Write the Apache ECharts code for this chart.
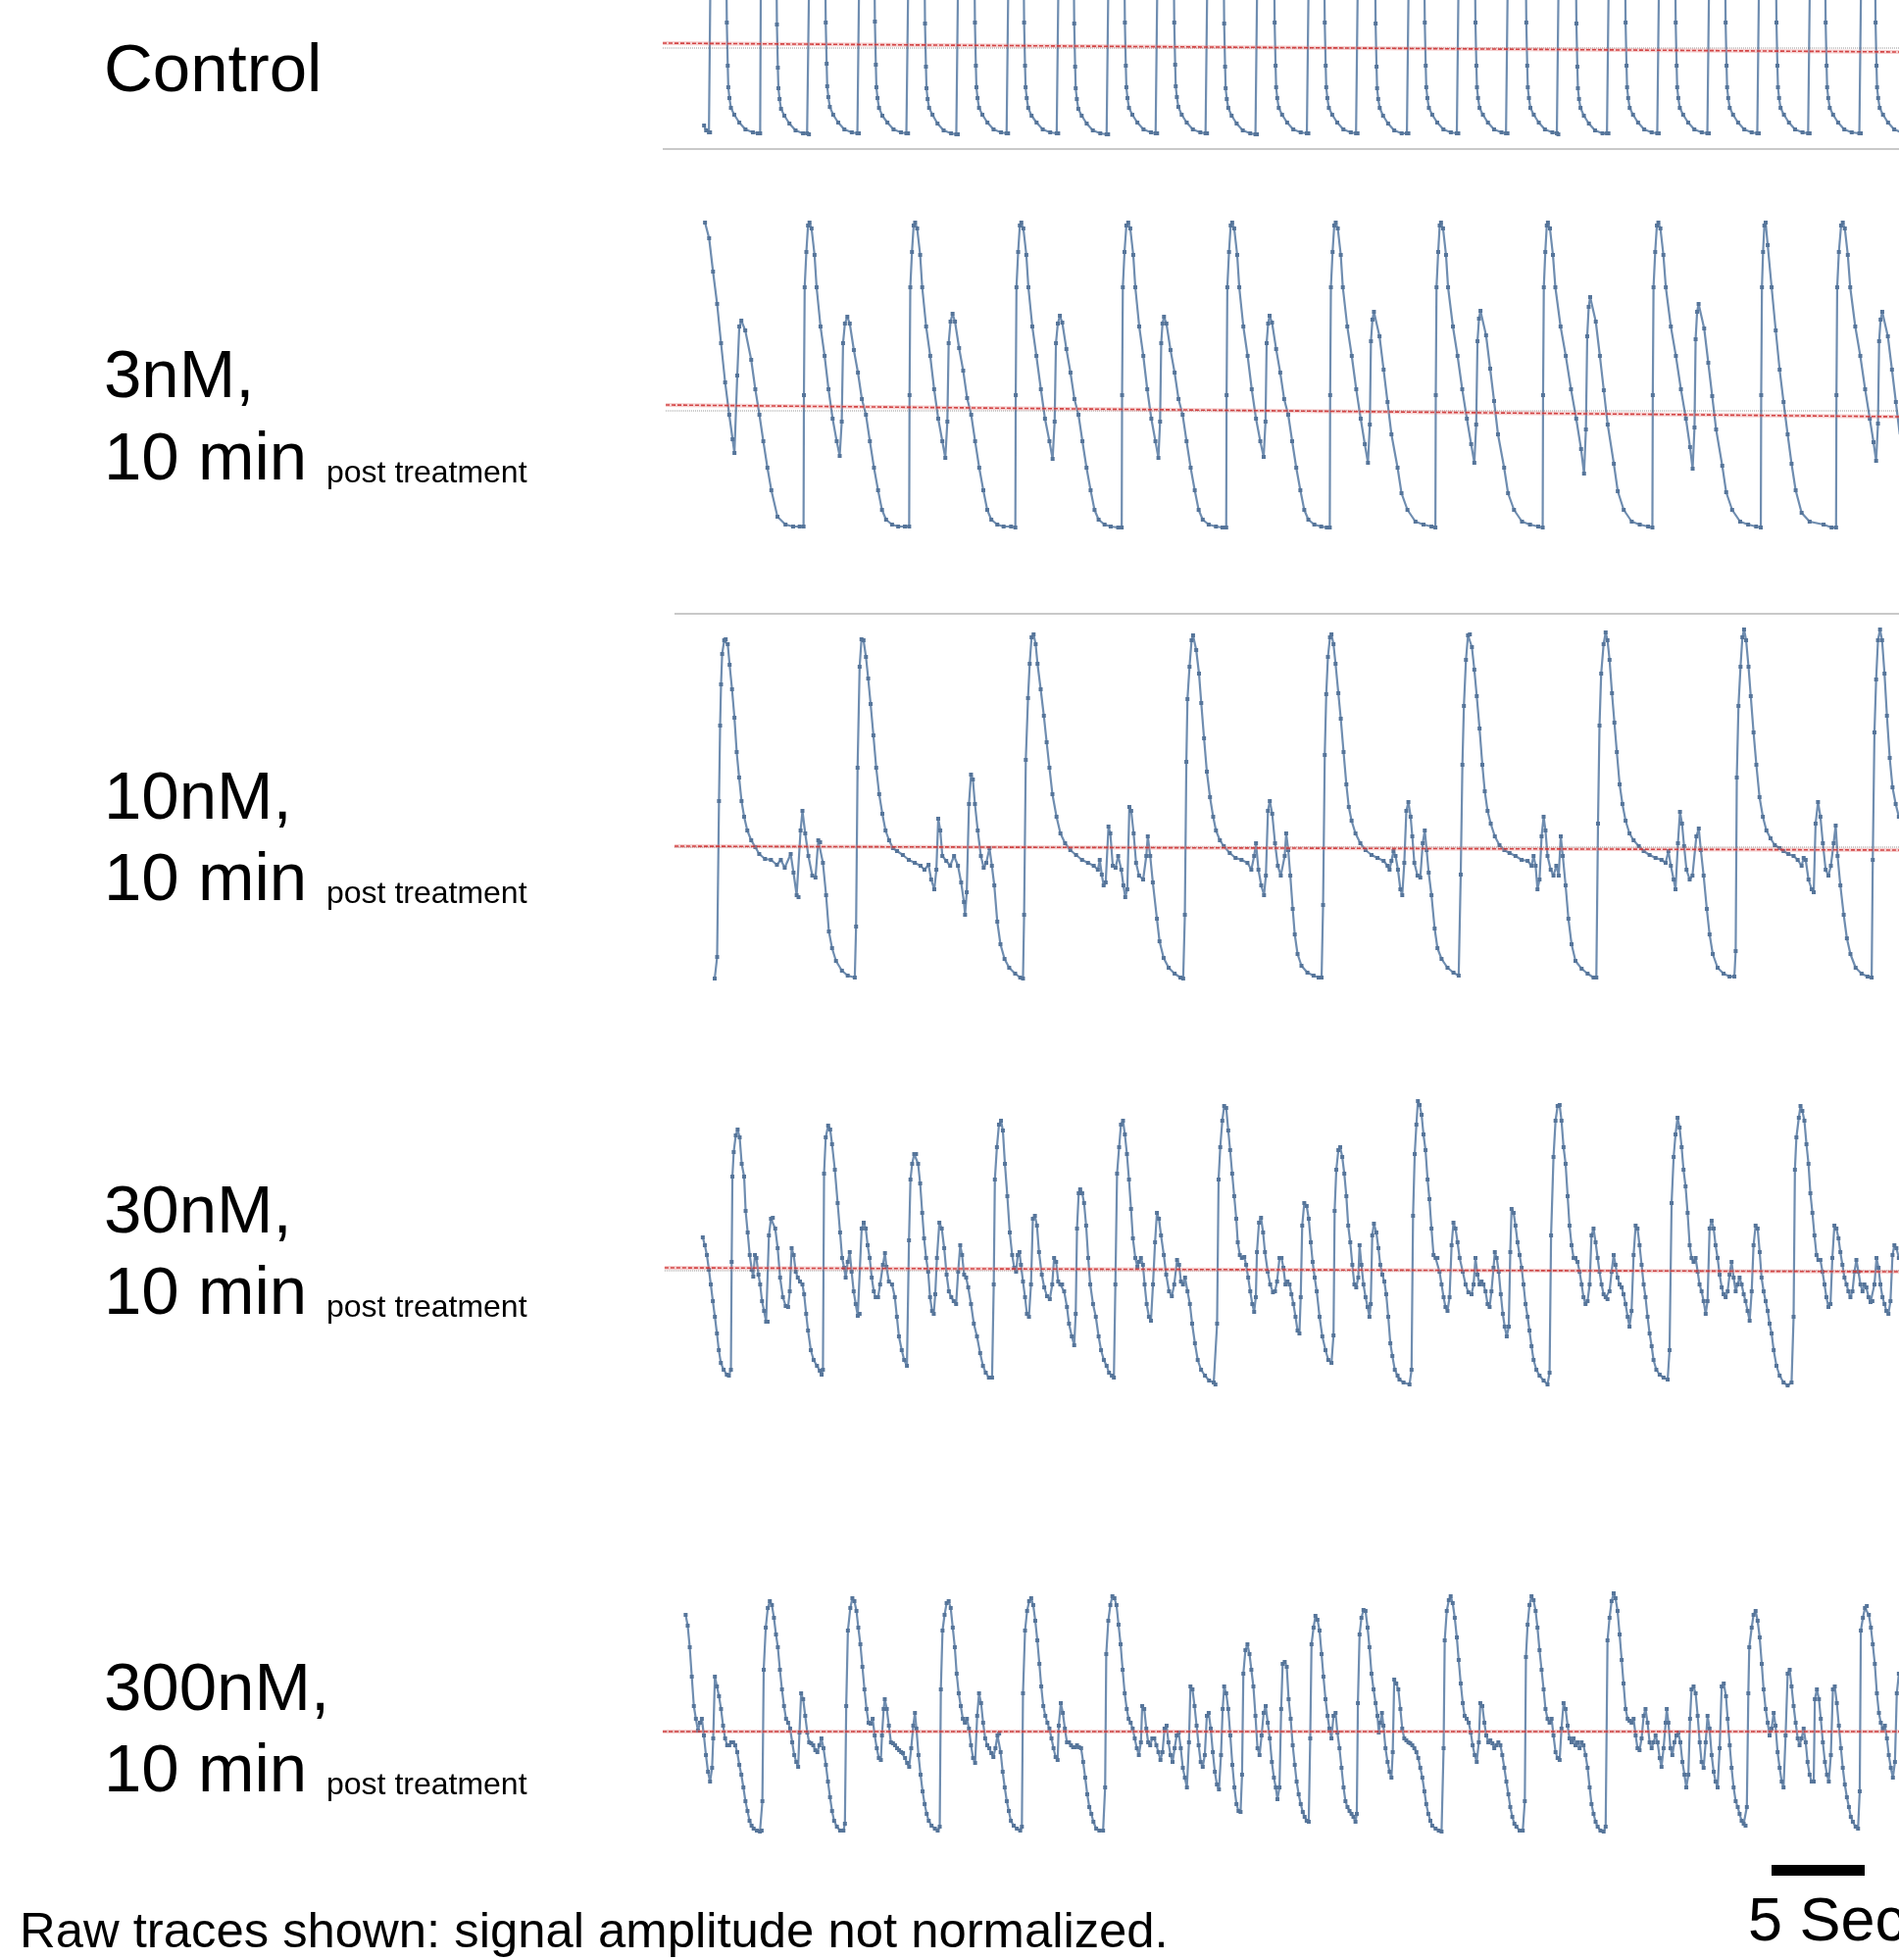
<!DOCTYPE html>
<html>
<head>
<meta charset="utf-8">
<title>Raw traces</title>
<script src="https://cdn.jsdelivr.net/npm/echarts@6/dist/echarts.min.js"></script>
<style>
  html, body { margin: 0; padding: 0; background: #fff; }
  #chart { width: 1937px; height: 1999px; }
</style>
</head>
<body>
<div id="chart"></div>
<script>
// ------------------------- D A T A ------------------------- //
// each trace: [time (s), signal (a.u., relative to its baseline)]

const control = [
  [2.22,-79],[2.33,-84],[2.48,-86],
  [2.54,-86],[2.59,130],[3.0,150],[3.41,90],[3.44,26],[3.49,-18],[3.52,-40],[3.58,-51],[3.66,-61],[3.84,-68],[4.11,-76],[4.44,-83],[4.84,-86],[5.1,-87],
  [5.23,-87],[5.28,130],[5.7,150],[6.1,90],[6.13,24],[6.18,-20],[6.21,-41],[6.27,-52],[6.35,-62],[6.53,-69],[6.8,-77],[7.13,-84],[7.53,-87],[7.75,-87],
  [7.85,-88],[7.9,130],[8.3,150],[8.72,90],[8.75,26],[8.8,-16],[8.83,-39],[8.89,-50],[8.97,-60],[9.15,-68],[9.42,-76],[9.75,-83],[10.15,-86],[10.45,-87],
  [10.53,-87],[10.58,130],[10.95,150],[11.36,90],[11.39,27],[11.44,-17],[11.47,-40],[11.53,-51],[11.61,-61],[11.79,-69],[12.06,-76],[12.39,-83],[12.79,-86],[13.08,-87],
  [13.17,-87],[13.22,130],[13.6,150],[14.05,90],[14.08,25],[14.13,-19],[14.16,-41],[14.22,-52],[14.3,-61],[14.48,-68],[14.75,-77],[15.08,-84],[15.48,-87],[15.76,-88],
  [15.84,-88],[15.89,130],[16.3,150],[16.73,90],[16.76,26],[16.81,-18],[16.84,-40],[16.9,-51],[16.98,-61],[17.16,-68],[17.43,-76],[17.76,-83],[18.16,-86],[18.46,-87],
  [18.54,-87],[18.59,130],[19.0,150],[19.37,90],[19.4,26],[19.45,-18],[19.48,-40],[19.54,-51],[19.62,-61],[19.8,-69],[20.07,-76],[20.4,-83],[20.8,-86],[21.15,-87],
  [21.23,-87],[21.28,130],[21.7,150],[22.06,90],[22.09,25],[22.14,-19],[22.17,-41],[22.23,-52],[22.31,-62],[22.49,-69],[22.76,-77],[23.09,-84],[23.49,-87],[23.83,-88],
  [23.91,-88],[23.96,130],[24.4,150],[24.78,90],[24.81,26],[24.86,-18],[24.89,-40],[24.95,-51],[25.03,-61],[25.21,-68],[25.48,-76],[25.81,-83],[26.21,-86],[26.46,-87],
  [26.54,-87],[26.59,130],[27.0,150],[27.43,90],[27.46,26],[27.51,-17],[27.54,-39],[27.6,-50],[27.68,-60],[27.86,-68],[28.13,-76],[28.46,-83],[28.86,-86],[29.14,-87],
  [29.22,-87],[29.27,130],[29.7,150],[30.11,90],[30.14,25],[30.19,-19],[30.22,-41],[30.28,-52],[30.36,-61],[30.54,-69],[30.81,-77],[31.14,-84],[31.54,-87],[31.82,-88],
  [31.9,-88],[31.95,130],[32.4,150],[32.82,90],[32.85,26],[32.9,-18],[32.93,-40],[32.99,-51],[33.07,-61],[33.25,-68],[33.52,-76],[33.85,-83],[34.25,-86],[34.58,-87],
  [34.66,-87],[34.71,130],[35.1,150],[35.51,90],[35.54,26],[35.59,-18],[35.62,-40],[35.68,-51],[35.76,-61],[35.94,-68],[36.21,-76],[36.54,-83],[36.94,-86],[37.22,-87],
  [37.3,-87],[37.35,130],[37.8,150],[38.24,90],[38.27,25],[38.32,-19],[38.35,-41],[38.41,-52],[38.49,-61],[38.67,-69],[38.94,-77],[39.27,-84],[39.67,-87],[39.95,-87],
  [40.03,-87],[40.08,130],[40.5,150],[40.88,90],[40.91,26],[40.96,-18],[40.99,-40],[41.05,-51],[41.13,-61],[41.31,-68],[41.58,-76],[41.91,-83],[42.31,-86],[42.63,-87],
  [42.71,-87],[42.76,130],[43.2,150],[43.6,90],[43.63,26],[43.68,-18],[43.71,-40],[43.77,-51],[43.85,-61],[44.03,-68],[44.3,-76],[44.63,-83],[45.03,-86],[45.27,-87],
  [45.35,-87],[45.4,130],[45.9,150],[46.33,90],[46.36,26],[46.41,-18],[46.44,-40],[46.5,-51],[46.58,-61],[46.76,-68],[47.03,-76],[47.36,-83],[47.76,-86],[48.0,-87],
  [48.08,-88],[48.13,130],[48.6,150],[49.02,90],[49.05,25],[49.1,-19],[49.13,-41],[49.19,-52],[49.27,-61],[49.45,-69],[49.72,-77],[50.05,-84],[50.45,-87],[50.69,-87],
  [50.77,-87],[50.82,130],[51.2,150],[51.66,90],[51.69,26],[51.74,-18],[51.77,-40],[51.83,-51],[51.91,-61],[52.09,-68],[52.36,-76],[52.69,-83],[53.09,-86],[53.39,-87],
  [53.47,-87],[53.52,130],[53.9,150],[54.35,90],[54.38,26],[54.43,-18],[54.46,-40],[54.52,-51],[54.6,-61],[54.78,-68],[55.05,-76],[55.38,-83],[55.78,-86],[56.08,-87],
  [56.16,-87],[56.21,130],[56.6,150],[57.03,90],[57.06,26],[57.11,-18],[57.14,-40],[57.2,-51],[57.28,-61],[57.46,-68],[57.73,-76],[58.06,-83],[58.46,-86],[58.76,-87],
  [58.84,-87],[58.89,130],[59.3,150],[59.76,90],[59.79,26],[59.84,-18],[59.87,-40],[59.93,-51],[60.01,-61],[60.19,-68],[60.46,-76],[60.79,-83],[61.19,-86],[61.49,-87],
  [61.57,-87],[61.62,130],[62.0,150],[62.4,90],[62.43,26],[62.48,-18],[62.51,-40],[62.57,-51],[62.65,-61],[62.83,-68],[63.1,-76],[63.43,-83],[63.83,-86],[64.24,-87],
  [64.32,-87],[64.37,130],[64.8,150],[65.08,90],[65.11,26],[65.16,-18],[65.19,-40],[65.25,-51],[65.33,-61],[65.51,-68],[65.78,-76],[66.11,-83],[66.5,-86]
];

const nm3 = [
  [2.27,191],[2.49,175],[2.7,141],[2.92,108],[3.13,68],[3.35,28],[3.57,-5],[3.75,-30],[3.85,-44],[4.0,35],[4.11,85],[4.22,91],[4.43,81],[4.75,51],[4.97,21],[5.19,-5],[5.4,-32],[5.62,-59],[5.83,-82],[6.16,-109],[6.59,-117],[7.0,-119],[7.35,-119],
  [7.56,-119],[7.58,15],[7.62,125],[7.71,161],[7.8,188],[7.88,191],[7.99,185],[8.15,158],[8.26,125],[8.47,85],[8.69,55],[8.9,21],[9.12,-9],[9.34,-32],[9.5,-47],[9.61,-12],[9.68,68],[9.78,88],[9.91,95],[10.04,88],[10.26,61],[10.48,38],[10.69,11],[10.91,-5],[11.12,-32],[11.34,-59],[11.56,-82],[11.77,-102],[11.99,-112],[12.31,-117],[12.64,-119],[13.0,-119],
  [13.23,-119],[13.25,15],[13.29,125],[13.38,161],[13.47,188],[13.55,191],[13.66,185],[13.82,158],[13.93,125],[14.14,85],[14.36,55],[14.57,21],[14.79,-9],[15.01,-32],[15.17,-49],[15.28,-12],[15.35,68],[15.45,90],[15.56,98],[15.69,90],[15.91,63],[16.13,40],[16.34,12],[16.56,-5],[16.77,-32],[16.99,-59],[17.21,-82],[17.42,-102],[17.64,-112],[17.96,-117],[18.3,-119],[18.7,-119],
  [18.93,-120],[18.95,15],[18.99,125],[19.08,161],[19.17,188],[19.25,191],[19.36,185],[19.52,158],[19.63,125],[19.84,85],[20.06,55],[20.3,21],[20.52,-9],[20.76,-32],[20.93,-50],[21.04,-12],[21.11,68],[21.21,88],[21.32,96],[21.45,89],[21.67,62],[21.89,38],[22.1,11],[22.32,-5],[22.53,-32],[22.75,-59],[22.97,-82],[23.18,-102],[23.4,-112],[23.72,-117],[24.05,-119],[24.45,-120],
  [24.64,-120],[24.66,15],[24.7,125],[24.79,161],[24.89,188],[24.99,191],[25.1,185],[25.26,158],[25.37,125],[25.58,85],[25.8,55],[26.01,21],[26.23,-9],[26.45,-32],[26.61,-49],[26.7,-12],[26.76,68],[26.83,88],[26.91,95],[27.04,88],[27.26,61],[27.48,38],[27.69,11],[27.91,-5],[28.12,-32],[28.34,-59],[28.56,-82],[28.77,-102],[28.99,-112],[29.31,-117],[29.7,-119],[30.05,-120],
  [30.25,-120],[30.27,15],[30.31,125],[30.4,161],[30.49,188],[30.57,191],[30.68,185],[30.84,158],[30.95,125],[31.17,85],[31.4,55],[31.62,21],[31.85,-9],[32.08,-32],[32.26,-48],[32.36,-12],[32.42,68],[32.5,88],[32.58,96],[32.71,89],[32.93,62],[33.15,38],[33.36,11],[33.58,-5],[33.79,-32],[34.01,-59],[34.23,-82],[34.44,-102],[34.66,-112],[34.98,-117],[35.35,-119],[35.65,-120],
  [35.81,-120],[35.83,15],[35.87,125],[35.96,161],[36.05,188],[36.13,191],[36.24,185],[36.4,158],[36.51,125],[36.75,85],[36.99,55],[37.23,21],[37.47,-9],[37.69,-35],[37.86,-54],[37.96,-15],[38.02,70],[38.1,92],[38.18,100],[38.48,75],[38.7,41],[38.91,8],[39.12,-25],[39.45,-59],[39.66,-85],[39.98,-102],[40.41,-114],[40.84,-117],[41.27,-119],
  [41.48,-120],[41.5,15],[41.54,125],[41.63,161],[41.71,188],[41.78,191],[41.89,185],[42.05,158],[42.16,125],[42.42,85],[42.67,55],[42.92,21],[43.17,-9],[43.4,-35],[43.57,-54],[43.67,-15],[43.74,70],[43.82,93],[43.9,101],[44.2,76],[44.42,42],[44.63,9],[44.84,-25],[45.17,-59],[45.38,-85],[45.7,-102],[46.13,-114],[46.56,-117],[47.0,-119],
  [47.24,-120],[47.26,15],[47.3,125],[47.38,161],[47.46,188],[47.52,191],[47.63,185],[47.79,158],[47.92,125],[48.2,85],[48.48,55],[48.76,21],[49.04,-9],[49.3,-40],[49.46,-65],[49.56,-20],[49.63,75],[49.71,105],[49.79,115],[50.09,90],[50.31,55],[50.52,20],[50.73,-15],[51.06,-55],[51.27,-83],[51.59,-102],[52.02,-114],[52.45,-117],[52.9,-119],
  [53.13,-120],[53.15,15],[53.19,125],[53.28,161],[53.37,188],[53.45,191],[53.56,185],[53.72,158],[53.85,125],[54.12,85],[54.39,55],[54.66,21],[54.93,-9],[55.15,-38],[55.29,-60],[55.39,-18],[55.45,72],[55.53,100],[55.61,108],[55.91,83],[56.13,48],[56.34,14],[56.55,-20],[56.88,-57],[57.09,-84],[57.41,-102],[57.84,-114],[58.27,-117],[58.7,-119],
  [58.95,-120],[58.97,15],[59.01,125],[59.07,161],[59.14,188],[59.21,191],[59.32,168],[59.53,125],[59.75,81],[59.96,41],[60.17,8],[60.39,-25],[60.6,-55],[60.82,-82],[61.14,-105],[61.57,-114],[62.32,-117],[62.75,-120],
  [62.99,-120],[63.01,15],[63.05,125],[63.14,161],[63.26,188],[63.35,191],[63.46,185],[63.62,158],[63.75,125],[64.02,85],[64.29,55],[64.55,21],[64.8,-9],[65.0,-33],[65.14,-52],[65.24,-14],[65.3,70],[65.38,92],[65.47,100],[65.77,75],[65.99,41],[66.2,8],[66.41,-25]
];

const nm10 = [
  [2.79,-134],[2.92,-112],[3.02,47],[3.08,124],[3.13,166],[3.19,197],[3.3,211],[3.38,212],[3.49,207],[3.59,186],[3.72,161],[3.85,132],[3.97,97],[4.1,71],[4.23,47],[4.37,31],[4.54,17],[4.75,7],[4.97,0],[5.18,-7],[5.49,-12],[5.81,-13],[6.13,-18],[6.34,-13],[6.55,-21],[6.87,-7],[7.02,-26],[7.19,-49],[7.29,-51],[7.4,17],[7.5,37],[7.65,14],[7.82,-9],[8.03,-29],[8.2,-31],[8.35,7],[8.45,5],[8.6,-16],[8.77,-49],[8.92,-86],[9.09,-103],[9.3,-116],[9.62,-126],[9.93,-131],[10.31,-133],
  [10.38,-81],[10.46,81],[10.57,184],[10.67,212],[10.78,211],[10.91,194],[11.03,172],[11.16,146],[11.31,114],[11.46,81],[11.62,54],[11.79,34],[11.96,17],[12.15,7],[12.36,-1],[12.58,-4],[12.89,-8],[13.21,-13],[13.53,-16],[13.84,-19],[14.05,-23],[14.27,-18],[14.41,-33],[14.58,-43],[14.69,-23],[14.79,29],[14.9,17],[15.01,-9],[15.22,-14],[15.43,-19],[15.64,-9],[15.85,-19],[16.02,-36],[16.17,-56],[16.23,-69],[16.32,-46],[16.44,44],[16.55,74],[16.65,69],[16.76,44],[16.91,17],[17.08,-9],[17.23,-21],[17.37,-16],[17.54,-1],[17.67,-19],[17.8,-39],[17.96,-76],[18.13,-99],[18.35,-114],[18.6,-123],[18.92,-129],[19.19,-133],[19.34,-134],
  [19.4,-69],[19.49,89],[19.61,152],[19.7,187],[19.8,214],[19.91,217],[20.02,207],[20.12,187],[20.29,161],[20.46,134],[20.61,107],[20.76,81],[20.92,54],[21.14,31],[21.35,14],[21.6,4],[21.88,-3],[22.19,-8],[22.51,-13],[22.83,-16],[23.14,-19],[23.36,-23],[23.46,-13],[23.57,-28],[23.67,-39],[23.78,-36],[23.93,21],[24.03,14],[24.16,-19],[24.31,-21],[24.45,-9],[24.62,-23],[24.73,-39],[24.83,-51],[24.94,-43],[25.05,41],[25.15,37],[25.28,14],[25.41,-16],[25.57,-29],[25.79,-33],[25.96,-9],[26.04,11],[26.17,-9],[26.31,-36],[26.53,-73],[26.67,-96],[26.89,-113],[27.16,-123],[27.48,-129],[27.79,-133],[27.94,-134],
  [28.03,-69],[28.11,87],[28.17,151],[28.28,184],[28.39,211],[28.47,216],[28.64,201],[28.79,177],[28.91,147],[29.06,111],[29.21,77],[29.38,51],[29.55,31],[29.7,17],[29.91,7],[30.12,1],[30.44,-6],[30.75,-11],[31.07,-13],[31.39,-16],[31.6,-23],[31.75,-9],[31.85,4],[31.98,-23],[32.13,-39],[32.28,-49],[32.38,-29],[32.49,37],[32.59,47],[32.72,34],[32.87,4],[33.02,-19],[33.18,-29],[33.39,-9],[33.47,14],[33.58,-3],[33.69,-29],[33.82,-63],[33.93,-89],[34.08,-109],[34.29,-121],[34.61,-128],[34.94,-131],[35.21,-133],[35.37,-133],
  [35.45,-59],[35.54,94],[35.62,156],[35.71,194],[35.82,214],[35.9,217],[36.01,207],[36.12,187],[36.27,157],[36.4,131],[36.55,97],[36.7,64],[36.83,41],[36.98,27],[37.19,14],[37.45,4],[37.73,-3],[38.05,-8],[38.37,-11],[38.7,-14],[38.91,-19],[39.02,-23],[39.12,-14],[39.23,-4],[39.34,-9],[39.47,-23],[39.6,-43],[39.7,-49],[39.81,-16],[39.92,37],[40.03,46],[40.15,31],[40.24,11],[40.35,-16],[40.52,-29],[40.67,-31],[40.8,4],[40.91,17],[41.01,-3],[41.12,-26],[41.27,-49],[41.44,-83],[41.59,-103],[41.81,-114],[42.13,-123],[42.45,-128],[42.73,-131],
  [42.84,-28],[42.93,84],[43.01,144],[43.12,191],[43.23,216],[43.33,217],[43.44,204],[43.57,181],[43.7,154],[43.85,121],[44.0,84],[44.13,57],[44.28,37],[44.45,24],[44.67,11],[44.92,2],[45.18,-3],[45.46,-6],[45.78,-9],[46.11,-13],[46.43,-14],[46.64,-19],[46.75,-9],[46.86,-19],[46.96,-43],[47.07,-33],[47.18,11],[47.29,31],[47.39,17],[47.5,-9],[47.67,-23],[47.82,-29],[47.97,-19],[48.1,-29],[48.21,11],[48.32,-9],[48.47,-39],[48.62,-73],[48.79,-99],[49.0,-116],[49.33,-124],[49.65,-129],[49.97,-133],[50.12,-133],
  [50.21,24],[50.29,124],[50.38,177],[50.51,207],[50.62,219],[50.72,211],[50.83,191],[50.96,157],[51.09,127],[51.22,97],[51.37,64],[51.52,44],[51.69,27],[51.9,14],[52.12,7],[52.4,1],[52.66,-4],[52.98,-8],[53.3,-11],[53.62,-13],[53.84,-16],[53.99,-4],[54.12,-19],[54.27,-33],[54.37,-43],[54.5,4],[54.61,36],[54.72,24],[54.83,1],[54.96,-23],[55.13,-33],[55.28,-29],[55.49,11],[55.62,19],[55.73,-3],[55.88,-29],[56.05,-63],[56.2,-89],[56.37,-109],[56.63,-123],[56.95,-129],[57.27,-132],[57.53,-132],
  [57.6,-106],[57.66,71],[57.75,144],[57.86,184],[57.96,214],[58.05,222],[58.16,211],[58.29,184],[58.41,154],[58.56,117],[58.71,84],[58.88,51],[59.06,31],[59.25,17],[59.47,9],[59.7,2],[59.96,-1],[60.17,-4],[60.43,-7],[60.71,-9],[60.93,-13],[61.14,-19],[61.25,-11],[61.36,-13],[61.51,-33],[61.68,-43],[61.79,-46],[61.89,24],[62.02,46],[62.15,31],[62.28,4],[62.43,-23],[62.58,-29],[62.71,-19],[62.86,4],[62.97,22],[63.07,-9],[63.22,-39],[63.4,-69],[63.57,-93],[63.76,-109],[64.04,-123],[64.36,-129],[64.68,-132],[64.9,-133],
  [64.96,-13],[65.05,117],[65.14,171],[65.24,211],[65.35,222],[65.46,211],[65.59,177],[65.72,134],[65.87,91],[66.02,61],[66.19,44],[66.36,31]
];

const nm30 = [
  [2.15,34],[2.26,26],[2.37,16],[2.48,1],[2.58,-14],[2.69,-31],[2.8,-47],[2.91,-64],[3.01,-81],[3.12,-94],[3.27,-101],[3.44,-106],[3.55,-107],
  [3.66,-101],[3.7,9],[3.74,96],[3.81,121],[3.92,138],[4.02,144],[4.13,136],[4.24,109],[4.37,96],[4.45,61],[4.56,39],[4.67,16],[4.78,1],[4.86,-6],[4.95,16],[5.03,13],[5.14,-4],[5.23,-14],[5.33,-31],[5.44,-41],[5.55,-52],[5.63,-52],[5.7,36],[5.81,53],[5.91,54],[6.04,43],[6.17,23],[6.3,-7],[6.45,-27],[6.6,-36],[6.73,-37],[6.82,-21],[6.92,23],[7.03,16],[7.14,-1],[7.25,-7],[7.37,-11],[7.5,-14],[7.59,-24],[7.7,-44],[7.8,-61],[7.95,-81],[8.1,-91],[8.28,-97],[8.43,-102],[8.53,-106],
  [8.6,-101],[8.66,99],[8.75,136],[8.88,148],[8.99,144],[9.09,129],[9.24,103],[9.39,69],[9.52,39],[9.63,13],[9.74,3],[9.82,-7],[9.93,9],[10.04,19],[10.14,-1],[10.25,-21],[10.36,-34],[10.47,-46],[10.57,-44],[10.68,43],[10.79,49],[10.9,43],[11.0,26],[11.11,13],[11.22,-7],[11.33,-21],[11.43,-27],[11.56,-27],[11.67,-14],[11.82,6],[11.93,18],[12.01,4],[12.14,-11],[12.31,-14],[12.46,-27],[12.57,-47],[12.68,-67],[12.83,-81],[12.96,-91],[13.11,-97],
  [13.22,31],[13.3,93],[13.39,109],[13.5,119],[13.6,119],[13.71,109],[13.82,89],[13.93,59],[14.03,33],[14.14,13],[14.25,-1],[14.35,-27],[14.46,-41],[14.55,-44],[14.63,-24],[14.72,13],[14.85,49],[14.98,43],[15.11,23],[15.24,-4],[15.36,-21],[15.49,-27],[15.62,-31],[15.75,-34],[15.86,-1],[15.97,26],[16.07,16],[16.18,-4],[16.29,-7],[16.4,-17],[16.55,-34],[16.7,-54],[16.87,-67],[17.04,-84],[17.19,-97],[17.34,-104],[17.51,-109],[17.68,-109],
  [17.77,-14],[17.83,93],[17.94,126],[18.05,149],[18.16,153],[18.26,143],[18.37,109],[18.5,76],[18.63,39],[18.76,16],[18.87,3],[18.97,-1],[19.06,16],[19.15,19],[19.23,6],[19.34,-11],[19.45,-27],[19.55,-44],[19.66,-47],[19.77,-14],[19.87,53],[19.98,56],[20.09,46],[20.2,19],[20.35,-4],[20.48,-17],[20.63,-26],[20.78,-29],[20.91,-14],[21.01,13],[21.12,9],[21.23,-11],[21.34,-14],[21.44,-14],[21.55,-21],[21.7,-37],[21.81,-54],[21.96,-67],[22.09,-76],
  [22.17,-44],[22.24,43],[22.33,79],[22.41,83],[22.52,79],[22.62,69],[22.73,46],[22.84,13],[22.95,-14],[23.1,-34],[23.25,-47],[23.4,-67],[23.53,-81],[23.68,-91],[23.83,-97],[23.96,-104],[24.11,-107],[24.22,-109],
  [24.3,-14],[24.39,99],[24.5,126],[24.6,149],[24.71,153],[24.81,139],[24.92,119],[25.03,93],[25.14,63],[25.24,33],[25.37,13],[25.48,4],[25.57,9],[25.67,13],[25.78,6],[25.87,-14],[25.98,-34],[26.1,-47],[26.21,-51],[26.32,-14],[26.43,29],[26.53,59],[26.64,53],[26.75,36],[26.9,16],[27.03,-4],[27.18,-21],[27.33,-26],[27.46,-14],[27.61,11],[27.72,6],[27.82,-11],[27.93,-14],[28.04,-7],[28.17,-21],[28.3,-34],[28.42,-54],[28.57,-74],[28.72,-91],[28.9,-101],[29.11,-107],[29.33,-112],[29.58,-114],[29.67,-116],
  [29.76,-54],[29.84,93],[29.93,126],[30.04,153],[30.14,168],[30.25,166],[30.36,143],[30.46,123],[30.57,99],[30.68,76],[30.79,53],[30.87,29],[30.98,16],[31.09,13],[31.22,14],[31.32,6],[31.43,-7],[31.54,-21],[31.65,-34],[31.75,-42],[31.84,-27],[31.9,19],[32.01,49],[32.12,54],[32.23,39],[32.33,19],[32.48,-1],[32.61,-14],[32.76,-22],[32.87,-21],[32.98,-11],[33.11,13],[33.22,13],[33.32,3],[33.43,-14],[33.54,-11],[33.65,-14],[33.75,-24],[33.86,-34],[33.97,-47],[34.08,-61],[34.18,-64],[34.25,-27],[34.33,46],[34.44,69],[34.57,66],[34.68,53],[34.79,29],[34.89,9],[35.0,-7],[35.11,-21],[35.26,-47],[35.41,-67],[35.58,-81],[35.73,-91],[35.9,-94],
  [36.01,-66],[36.07,61],[36.16,103],[36.27,123],[36.37,126],[36.48,116],[36.59,99],[36.7,76],[36.8,46],[36.91,29],[37.02,6],[37.13,-14],[37.23,-17],[37.34,-7],[37.41,26],[37.51,6],[37.62,-14],[37.73,-27],[37.84,-37],[37.94,-47],[38.01,-34],[38.09,36],[38.18,48],[38.31,39],[38.42,23],[38.52,6],[38.63,-4],[38.74,-11],[38.84,-24],[38.95,-47],[39.06,-74],[39.17,-87],[39.3,-101],[39.45,-107],[39.55,-111],[39.77,-114],[40.09,-116],
  [40.2,-101],[40.28,56],[40.37,119],[40.46,149],[40.54,173],[40.63,169],[40.74,159],[40.84,139],[40.95,123],[41.06,93],[41.16,73],[41.27,43],[41.38,16],[41.49,13],[41.59,13],[41.7,-1],[41.81,-14],[41.92,-27],[42.02,-37],[42.13,-41],[42.24,-27],[42.35,26],[42.45,49],[42.56,43],[42.67,29],[42.78,13],[42.95,-1],[43.1,-14],[43.25,-22],[43.42,-24],[43.53,-14],[43.63,13],[43.74,-4],[43.85,-14],[43.96,-11],[44.06,-14],[44.17,-21],[44.28,-34],[44.39,-37],[44.49,-21],[44.6,3],[44.67,19],[44.77,13],[44.88,-1],[44.99,-24],[45.1,-44],[45.2,-57],[45.31,-67],[45.42,-57],[45.5,19],[45.57,63],[45.68,59],[45.78,46],[45.89,29],[46.0,16],[46.11,3],[46.21,-14],[46.32,-34],[46.43,-47],[46.53,-61],[46.64,-77],[46.75,-91],[46.9,-101],[47.07,-107],[47.29,-112],[47.5,-116],[47.61,-104],
  [47.69,36],[47.82,116],[47.93,153],[48.04,168],[48.15,169],[48.25,153],[48.36,126],[48.47,109],[48.58,76],[48.68,46],[48.79,26],[48.9,13],[49.0,13],[49.11,9],[49.22,-1],[49.33,-14],[49.43,-27],[49.54,-34],[49.65,-31],[49.76,-14],[49.86,36],[49.97,43],[50.08,29],[50.19,13],[50.29,-1],[50.4,-14],[50.51,-24],[50.62,-27],[50.72,-29],[50.83,-21],[50.94,-1],[51.05,16],[51.15,6],[51.26,-7],[51.37,-14],[51.48,-17],[51.58,-24],[51.69,-34],[51.8,-47],[51.9,-57],[52.01,-41],[52.12,16],[52.23,46],[52.33,43],[52.44,26],[52.55,6],[52.66,-14],[52.76,-27],[52.87,-47],[52.98,-64],[53.09,-77],[53.19,-91],[53.34,-101],[53.52,-106],[53.73,-109],[53.95,-111],[54.05,-81],
  [54.16,69],[54.27,116],[54.37,139],[54.48,156],[54.59,146],[54.7,126],[54.8,103],[54.91,86],[55.02,59],[55.13,26],[55.23,13],[55.34,9],[55.45,13],[55.56,-1],[55.66,-14],[55.77,-21],[55.88,-31],[55.99,-44],[56.09,-31],[56.2,43],[56.31,51],[56.42,43],[56.52,26],[56.63,13],[56.74,-4],[56.85,-17],[56.95,-24],[57.06,-27],[57.17,-21],[57.27,-4],[57.38,9],[57.49,-7],[57.6,-21],[57.7,-14],[57.81,-7],[57.92,-14],[58.03,-24],[58.13,-31],[58.24,-41],[58.35,-51],[58.46,-21],[58.56,26],[58.67,46],[58.78,43],[58.89,19],[58.99,-7],[59.1,-21],[59.21,-31],[59.32,-41],[59.42,-54],[59.53,-64],[59.64,-81],[59.79,-97],[59.96,-107],[60.17,-114],[60.39,-117],[60.6,-114],[60.71,-47],
  [60.78,103],[60.86,136],[60.99,156],[61.08,168],[61.18,163],[61.29,153],[61.4,129],[61.51,109],[61.61,79],[61.72,59],[61.83,36],[61.94,16],[62.04,11],[62.15,11],[62.26,-1],[62.37,-14],[62.47,-27],[62.58,-37],[62.69,-34],[62.79,13],[62.9,46],[63.01,43],[63.12,33],[63.22,19],[63.33,6],[63.44,-7],[63.55,-14],[63.65,-21],[63.76,-27],[63.87,-21],[63.98,-1],[64.08,11],[64.19,-1],[64.3,-14],[64.41,-21],[64.51,-14],[64.62,-17],[64.73,-27],[64.84,-32],[64.94,-31],[65.05,-14],[65.16,13],[65.27,3],[65.37,-14],[65.48,-27],[65.59,-34],[65.69,-41],[65.8,-44],[65.91,-31],[66.02,16],[66.12,26],[66.23,23],[66.36,13]
];

const nm300 = [
  [1.23,119],[1.34,108],[1.45,86],[1.56,56],[1.67,26],[1.78,13],[1.89,1],[2.0,9],[2.1,13],[2.21,-4],[2.32,-24],[2.43,-41],[2.54,-51],[2.65,-37],[2.71,-7],[2.8,56],[2.91,46],[3.02,36],[3.13,23],[3.24,6],[3.35,-7],[3.46,-14],[3.57,-14],[3.67,-11],[3.78,-11],[3.89,-14],[4.0,-21],[4.11,-34],[4.22,-44],[4.33,-57],[4.44,-71],[4.55,-81],[4.66,-91],[4.77,-96],[4.88,-99],[5.05,-101],[5.22,-102],[5.31,-101],
  [5.35,-71],[5.42,63],[5.53,106],[5.64,126],[5.75,133],[5.86,129],[5.97,116],[6.08,99],[6.18,86],[6.29,63],[6.4,43],[6.51,26],[6.62,13],[6.73,9],[6.84,3],[6.95,-11],[7.06,-24],[7.17,-31],[7.27,-36],[7.34,-1],[7.43,39],[7.54,33],[7.65,16],[7.76,-1],[7.86,-11],[7.97,-12],[8.08,-14],[8.19,-19],[8.3,-21],[8.41,-14],[8.52,-7],[8.63,-17],[8.76,-34],[8.87,-51],[8.98,-67],[9.09,-81],[9.2,-91],[9.35,-97],[9.52,-101],[9.7,-101],[9.78,-94],
  [9.85,26],[9.94,103],[10.07,126],[10.18,136],[10.29,133],[10.4,123],[10.5,106],[10.61,89],[10.72,66],[10.83,43],[10.94,23],[11.05,9],[11.16,8],[11.27,13],[11.38,-4],[11.49,-17],[11.6,-27],[11.71,-29],[11.77,-4],[11.86,23],[11.92,33],[12.03,23],[12.14,6],[12.25,-11],[12.36,-12],[12.47,-14],[12.58,-17],[12.69,-19],[12.8,-21],[12.9,-22],[13.01,-27],[13.12,-32],[13.23,-36],[13.34,-17],[13.45,6],[13.54,19],[13.62,3],[13.73,-24],[13.84,-44],[13.95,-61],[14.06,-74],[14.17,-84],[14.28,-91],[14.43,-96],[14.61,-99],[14.76,-101],[14.87,-97],
  [14.93,43],[15.02,103],[15.13,119],[15.24,131],[15.35,133],[15.46,126],[15.57,106],[15.68,86],[15.78,59],[15.89,39],[16.0,26],[16.11,13],[16.22,9],[16.33,13],[16.44,3],[16.55,-14],[16.66,-27],[16.77,-32],[16.88,16],[16.98,39],[17.09,29],[17.2,9],[17.31,-7],[17.42,-14],[17.53,-17],[17.64,-22],[17.75,-26],[17.86,-17],[17.97,-4],[18.06,-2],[18.14,-21],[18.25,-41],[18.36,-57],[18.47,-71],[18.58,-81],[18.69,-91],[18.84,-96],[19.01,-99],[19.19,-101],[19.28,-97],
  [19.34,39],[19.45,103],[19.56,123],[19.67,133],[19.78,136],[19.89,129],[20.0,113],[20.11,93],[20.22,69],[20.32,46],[20.43,26],[20.54,16],[20.65,9],[20.76,3],[20.87,-7],[20.98,-17],[21.09,-26],[21.2,-29],[21.26,6],[21.37,29],[21.48,19],[21.59,3],[21.7,-11],[21.81,-11],[21.92,-14],[22.03,-16],[22.14,-16],[22.24,-14],[22.35,-16],[22.46,-17],[22.57,-31],[22.68,-47],[22.79,-64],[22.9,-77],[23.01,-84],[23.12,-92],[23.27,-99],[23.44,-101],[23.64,-101],[23.75,-57],
  [23.81,79],[23.92,113],[24.03,129],[24.14,138],[24.25,136],[24.36,129],[24.47,109],[24.58,89],[24.69,63],[24.8,39],[24.91,23],[25.01,13],[25.12,9],[25.23,3],[25.34,-7],[25.45,-17],[25.56,-24],[25.67,-11],[25.74,26],[25.85,23],[25.96,3],[26.06,-11],[26.17,-14],[26.28,-7],[26.39,-7],[26.5,-14],[26.61,-21],[26.72,-29],[26.83,-21],[26.94,3],[27.05,6],[27.15,-11],[27.26,-24],[27.37,-31],[27.48,-17],[27.59,-4],[27.7,-1],[27.81,-17],[27.92,-37],[28.03,-47],[28.14,-57],[28.25,-11],[28.33,46],[28.44,43],[28.55,26],[28.66,6],[28.77,-14],[28.88,-31],[28.99,-36],[29.1,-24],[29.21,16],[29.31,19],[29.42,3],[29.53,-21],[29.64,-41],[29.75,-54],[29.86,-59],[29.97,-24],[30.06,23],[30.14,46],[30.25,39],[30.36,23],[30.47,-4],[30.58,-34],[30.69,-57],[30.8,-74],[30.91,-81],[31.02,-82],
  [31.1,-44],[31.17,59],[31.28,83],[31.39,89],[31.5,79],[31.6,63],[31.71,46],[31.82,16],[31.93,-17],[32.04,-24],[32.15,-4],[32.26,19],[32.37,26],[32.48,9],[32.59,-7],[32.7,-31],[32.81,-47],[32.91,-57],[33.0,-69],[33.11,-57],[33.2,23],[33.28,69],[33.39,71],[33.5,66],[33.6,33],[33.71,13],[33.82,-14],[33.93,-34],[34.03,-51],[34.14,-64],[34.25,-74],[34.36,-82],[34.46,-87],[34.57,-91],[34.68,-92],
  [34.76,-7],[34.83,89],[34.94,106],[35.04,118],[35.15,114],[35.26,103],[35.37,79],[35.47,56],[35.58,33],[35.69,16],[35.79,3],[35.9,-7],[36.01,16],[36.12,19],[36.22,-1],[36.33,-17],[36.44,-37],[36.55,-57],[36.65,-71],[36.76,-77],[36.87,-81],[36.98,-84],[37.08,-87],[37.19,-92],[37.26,-84],
  [37.32,29],[37.41,99],[37.51,116],[37.62,124],[37.73,123],[37.84,106],[37.94,86],[38.05,59],[38.16,43],[38.27,29],[38.37,16],[38.44,-1],[38.52,9],[38.61,19],[38.69,6],[38.8,-17],[38.91,-31],[39.02,-41],[39.12,-47],[39.19,-21],[39.27,53],[39.38,49],[39.49,43],[39.6,23],[39.7,3],[39.81,-7],[39.92,-9],[40.03,-11],[40.13,-12],[40.24,-14],[40.35,-17],[40.46,-21],[40.56,-27],[40.67,-37],[40.78,-47],[40.89,-61],[40.99,-74],[41.1,-84],[41.21,-91],[41.31,-96],[41.49,-99],[41.66,-101],[41.81,-102],
  [41.92,-17],[41.98,93],[42.09,123],[42.2,134],[42.3,138],[42.41,131],[42.52,116],[42.63,96],[42.73,73],[42.84,49],[42.95,29],[43.05,16],[43.16,13],[43.27,9],[43.38,-1],[43.48,-14],[43.59,-24],[43.7,-31],[43.81,-11],[43.89,29],[44.0,26],[44.11,9],[44.21,-4],[44.32,-11],[44.43,-9],[44.54,-12],[44.64,-17],[44.75,-14],[44.86,-11],[44.97,-14],[45.07,-24],[45.18,-37],[45.29,-51],[45.4,-64],[45.5,-77],[45.61,-87],[45.72,-94],[45.83,-97],[46.0,-101],[46.17,-101],[46.28,-71],
  [46.34,76],[46.43,109],[46.53,129],[46.64,138],[46.75,134],[46.86,123],[46.96,106],[47.07,83],[47.18,63],[47.29,43],[47.39,23],[47.5,13],[47.61,9],[47.72,13],[47.82,-4],[47.93,-21],[48.04,-27],[48.15,-29],[48.25,3],[48.36,29],[48.47,23],[48.58,6],[48.68,-7],[48.79,-11],[48.9,-7],[49.0,-14],[49.11,-11],[49.22,-17],[49.33,-11],[49.43,-14],[49.54,-24],[49.65,-37],[49.76,-57],[49.86,-74],[49.97,-84],[50.08,-92],[50.19,-97],[50.34,-101],[50.51,-102],[50.62,-97],
  [50.72,93],[50.83,116],[50.94,133],[51.05,141],[51.15,136],[51.26,123],[51.37,99],[51.48,73],[51.58,49],[51.69,23],[51.8,13],[51.9,11],[52.01,9],[52.12,13],[52.23,-4],[52.33,-17],[52.44,-19],[52.55,-7],[52.66,16],[52.76,23],[52.87,9],[52.98,-11],[53.09,-17],[53.19,-11],[53.3,-4],[53.41,-11],[53.52,-27],[53.62,-36],[53.73,-17],[53.84,9],[53.9,23],[53.99,9],[54.1,-17],[54.2,-24],[54.31,-11],[54.42,-4],[54.52,-1],[54.63,-11],[54.74,-31],[54.85,-44],[54.95,-57],[55.06,-44],[55.15,13],[55.23,43],[55.34,46],[55.45,39],[55.56,16],[55.67,-11],[55.77,-31],[55.88,-37],[55.99,-11],[56.09,16],[56.2,3],[56.31,-24],[56.42,-41],[56.52,-51],[56.63,-57],[56.74,-17],[56.85,46],[56.96,49],[57.08,36],[57.17,13],[57.28,-14],[57.38,-37],[57.49,-57],[57.6,-71],[57.71,-77],[57.81,-84],[57.92,-91],[58.03,-94],[58.13,-96],[58.2,-77],
  [58.28,39],[58.33,86],[58.46,106],[58.56,119],[58.67,123],[58.78,113],[58.89,96],[59.0,69],[59.1,43],[59.21,23],[59.32,9],[59.42,-4],[59.53,3],[59.64,19],[59.74,6],[59.85,-21],[59.96,-37],[60.07,-51],[60.17,-57],[60.28,-4],[60.39,59],[60.5,63],[60.6,46],[60.71,26],[60.82,9],[60.93,-7],[61.03,-14],[61.14,-7],[61.25,3],[61.36,-11],[61.46,-31],[61.57,-44],[61.68,-51],[61.79,-51],[61.85,33],[61.96,43],[62.07,33],[62.17,13],[62.28,-11],[62.39,-31],[62.5,-44],[62.6,-51],[62.71,-24],[62.82,43],[62.92,46],[63.03,29],[63.14,6],[63.25,-17],[63.35,-37],[63.46,-54],[63.57,-67],[63.68,-77],[63.78,-87],[63.89,-92],[64.04,-97],[64.17,-99],
  [64.26,-61],[64.32,103],[64.43,116],[64.54,126],[64.64,128],[64.75,119],[64.86,106],[64.96,89],[65.07,69],[65.18,39],[65.29,19],[65.39,9],[65.5,3],[65.61,6],[65.72,-7],[65.82,-24],[65.93,-37],[66.04,-47],[66.15,-31],[66.25,39],[66.36,59]
];

// baseline fit (red) and reference level (dotted) for each trace
const fitControl = [[0, 5], [66.37, -4]];
const fit3 = [[0.16, 5], [66.37, -7]];
const fit10 = [[0.63, 1], [66.37, -3]];
const fit30 = [[0.1, 3], [66.37, -1]];
const fit300 = [[0, 0], [66.37, 0]];

const ref0 = [[0, 0], [66.37, 0]];
const ref3 = [[0.16, -1], [66.37, -1]];
const ref10 = [[0.63, 0], [66.37, 0]];
const ref30 = [[0.1, 0], [66.37, 0]];

const doseLabels = ['Control', '3nM,', '10nM,', '30nM,', '300nM,'];
const timeLabel = '10 min';
const timeNote = 'post treatment';
const scaleSeconds = 5;

// ----------------- L A Y O U T ----------------- //

const X_MAX = 66.368;
const FONT = '"Liberation Sans", Arial, sans-serif';

const panels = [
  { trace: control, fit: fitControl, ref: ref0, top: 0, height: 152, min: -103, max: 49, base: [98] },
  { trace: nm3, fit: fit3, ref: ref3, top: 210, height: 350, min: -142, max: 208, base: [410, 494] },
  { trace: nm10, fit: fit10, ref: ref10, top: 630, height: 380, min: -146, max: 234, base: [840, 923] },
  { trace: nm30, fit: fit30, ref: ref30, top: 1100, height: 340, min: -144, max: 196, base: [1262, 1345] },
  { trace: nm300, fit: fit300, ref: ref0, top: 1600, height: 330, min: -164, max: 166, base: [1749, 1832] }
];

const chart = echarts.init(document.getElementById('chart'), null, { renderer: 'canvas' });

const grid = [];
const xAxis = [];
const yAxis = [];
const series = [];
const graphic = [];

const text = (str, x, baseline, size) => ({
  type: 'text',
  x: x,
  y: baseline - size * 0.35,
  style: {
    text: str,
    font: size + 'px ' + FONT,
    fill: '#000',
    textAlign: 'left',
    textVerticalAlign: 'middle',
    align: 'left',
    verticalAlign: 'middle'
  }
});

panels.forEach((p, i) => {
  grid.push({ left: 676, right: 0, top: p.top, height: p.height, show: false });
  xAxis.push({ type: 'value', gridIndex: i, min: 0, max: X_MAX, show: false });
  yAxis.push({ type: 'value', gridIndex: i, min: p.min, max: p.max, show: false });

  series.push({
    type: 'line',
    xAxisIndex: i,
    yAxisIndex: i,
    data: p.trace,
    showSymbol: true,
    symbol: 'rect',
    symbolSize: 4,
    itemStyle: { color: '#56759a' },
    lineStyle: { color: '#6f8db0', width: 2.2 },
    clip: true,
    z: 2
  });
  series.push({
    type: 'line',
    xAxisIndex: i,
    yAxisIndex: i,
    data: p.ref,
    showSymbol: false,
    lineStyle: { color: '#666', width: 1, type: 'dotted', opacity: 0.7 },
    z: 3
  });
  // pale halo under the fitted baseline
  series.push({
    type: 'line',
    xAxisIndex: i,
    yAxisIndex: i,
    data: p.fit,
    showSymbol: false,
    lineStyle: { color: 'rgba(230,120,120,0.35)', width: 4 },
    z: 3
  });
  series.push({
    type: 'line',
    xAxisIndex: i,
    yAxisIndex: i,
    data: p.fit,
    showSymbol: false,
    lineStyle: { color: 'rgba(205,45,45,0.85)', width: 1.6, type: [4, 2] },
    z: 4
  });

  graphic.push(text(doseLabels[i], 106, p.base[0], 69));
  if (p.base.length > 1) {
    graphic.push(text(timeLabel, 106, p.base[1], 69));
    graphic.push(text(timeNote, 333, p.base[1], 32));
  }
});

// panel separators
graphic.push({ type: 'line', shape: { x1: 676, y1: 152, x2: 1937, y2: 152 }, style: { stroke: '#c9c9c9', lineWidth: 2 } });
graphic.push({ type: 'line', shape: { x1: 688, y1: 626, x2: 1937, y2: 626 }, style: { stroke: '#c9c9c9', lineWidth: 2 } });

// caption and scale label
graphic.push(text('Raw traces shown: signal amplitude not normalized.', 20, 1990, 50.8));
graphic.push(text(scaleSeconds + ' Sec', 1783, 1984, 63));

chart.setOption({
  animation: false,
  backgroundColor: '#fff',
  grid: grid,
  xAxis: xAxis,
  yAxis: yAxis,
  series: series,
  graphic: graphic
});

// scale bar: 5 s measured on the time axis of the last panel
const px0 = chart.convertToPixel({ xAxisIndex: 4 }, 0);
const px5 = chart.convertToPixel({ xAxisIndex: 4 }, scaleSeconds);
graphic.push({
  type: 'rect',
  shape: { x: 1807, y: 1902, width: px5 - px0, height: 11 },
  style: { fill: '#000' }
});
chart.setOption({ graphic: graphic });
</script>
</body>
</html>
